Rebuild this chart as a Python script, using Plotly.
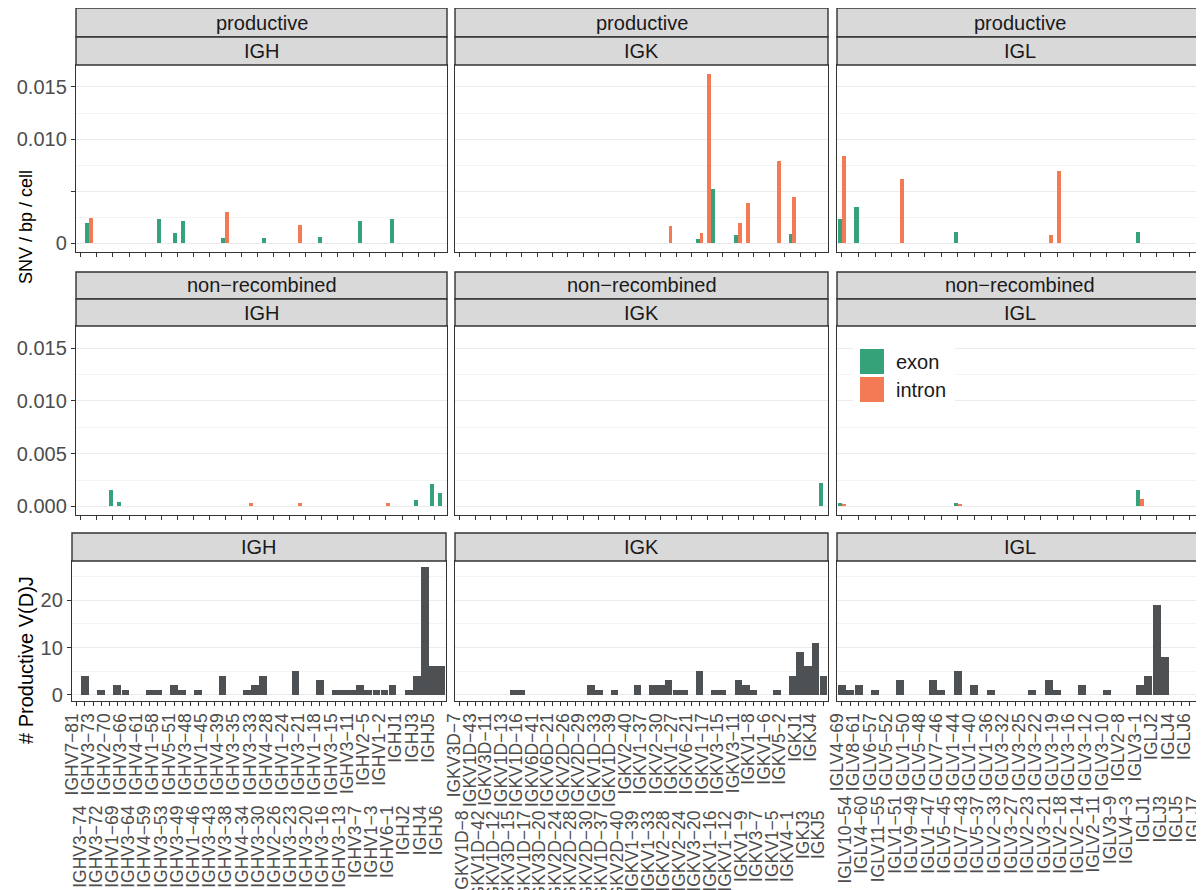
import plotly.graph_objects as go

# page is 1204x890; the html body has an 8px margin, so the figure is drawn 8px in
W_PAGE, H_PAGE = 1204, 890
OFF = 8
W, H = W_PAGE - OFF, H_PAGE - OFF

# ---------------- categories ----------------
igh_genes = ["IGHV7-81","IGHV3-74","IGHV3-73","IGHV3-72","IGHV2-70","IGHV1-69","IGHV3-66","IGHV3-64",
             "IGHV4-61","IGHV4-59","IGHV1-58","IGHV3-53","IGHV5-51","IGHV3-49","IGHV3-48","IGHV1-46",
             "IGHV1-45","IGHV3-43","IGHV4-39","IGHV3-38","IGHV3-35","IGHV4-34","IGHV3-33","IGHV3-30",
             "IGHV4-28","IGHV2-26","IGHV1-24","IGHV3-23","IGHV3-21","IGHV3-20","IGHV1-18","IGHV3-16",
             "IGHV3-15","IGHV3-13","IGHV3-11","IGHV3-7","IGHV2-5","IGHV1-3","IGHV1-2","IGHV6-1",
             "IGHJ1","IGHJ2","IGHJ3","IGHJ4","IGHJ5","IGHJ6"]
igk_genes = ["IGKV3D-7","IGKV1D-8","IGKV1D-43","IGKV1D-42","IGKV3D-11","IGKV1D-12","IGKV1D-13","IGKV3D-15",
             "IGKV1D-16","IGKV1D-17","IGKV6D-41","IGKV3D-20","IGKV6D-21","IGKV2D-24","IGKV2D-26","IGKV2D-28",
             "IGKV2D-29","IGKV2D-30","IGKV1D-33","IGKV1D-37","IGKV1D-39","IGKV2D-40","IGKV2-40","IGKV1-39",
             "IGKV1-37","IGKV1-33","IGKV2-30","IGKV2-28","IGKV1-27","IGKV2-24","IGKV6-21","IGKV3-20",
             "IGKV1-17","IGKV1-16","IGKV3-15","IGKV1-12","IGKV3-11","IGKV1-9","IGKV1-8","IGKV3-7",
             "IGKV1-6","IGKV1-5","IGKV5-2","IGKV4-1","IGKJ1","IGKJ3","IGKJ4","IGKJ5"]
igl_genes = ["IGLV4-69","IGLV10-54","IGLV8-61","IGLV4-60","IGLV6-57","IGLV11-55","IGLV5-52","IGLV1-51",
             "IGLV1-50","IGLV9-49","IGLV5-48","IGLV1-47","IGLV7-46","IGLV5-45","IGLV1-44","IGLV7-43",
             "IGLV1-40","IGLV5-37","IGLV1-36","IGLV2-33","IGLV3-32","IGLV3-27","IGLV3-25","IGLV2-23",
             "IGLV3-22","IGLV3-21","IGLV3-19","IGLV2-18","IGLV3-16","IGLV2-14","IGLV3-12","IGLV2-11",
             "IGLV3-10","IGLV3-9","IGLV2-8","IGLV4-3","IGLV3-1","IGLJ1","IGLJ2","IGLJ3","IGLJ4","IGLJ5",
             "IGLJ6","IGLJ7"]

# ---------------- productive V(D)J counts ----------------
igh_count = {"IGHV3-74": 4, "IGHV3-72": 1, "IGHV1-69": 2, "IGHV3-66": 1, "IGHV4-59": 1, "IGHV1-58": 1,
             "IGHV5-51": 2, "IGHV3-49": 1, "IGHV1-46": 1, "IGHV4-39": 4, "IGHV4-34": 1, "IGHV3-33": 2,
             "IGHV3-30": 4, "IGHV3-23": 5, "IGHV1-18": 3, "IGHV3-15": 1, "IGHV3-13": 1, "IGHV3-11": 1,
             "IGHV3-7": 2, "IGHV2-5": 1, "IGHV1-3": 1, "IGHV1-2": 1, "IGHV6-1": 2, "IGHJ2": 1,
             "IGHJ3": 4, "IGHJ4": 27, "IGHJ5": 6, "IGHJ6": 6}
igk_count = {"IGKV3D-15": 1, "IGKV1D-16": 1, "IGKV2D-30": 2, "IGKV1D-33": 1, "IGKV1D-39": 1,
             "IGKV1-39": 2, "IGKV1-33": 2, "IGKV2-30": 2, "IGKV2-28": 3, "IGKV1-27": 1, "IGKV2-24": 1,
             "IGKV3-20": 5, "IGKV1-16": 1, "IGKV3-15": 1, "IGKV3-11": 3, "IGKV1-9": 2, "IGKV1-8": 1,
             "IGKV1-5": 1, "IGKV4-1": 4, "IGKJ1": 9, "IGKJ3": 6, "IGKJ4": 11, "IGKJ5": 4}
igl_count = {"IGLV4-69": 2, "IGLV10-54": 1, "IGLV8-61": 2, "IGLV6-57": 1, "IGLV1-51": 3, "IGLV1-47": 3,
             "IGLV7-46": 1, "IGLV1-44": 5, "IGLV1-40": 2, "IGLV1-36": 1, "IGLV2-23": 1, "IGLV3-21": 3,
             "IGLV3-19": 1, "IGLV2-14": 2, "IGLV3-10": 1, "IGLV3-1": 2, "IGLJ1": 4, "IGLJ2": 19, "IGLJ3": 8}

# ---------------- SNV / bp / cell, productive ----------------
igh_prod_exon = {"IGHV3-74": 0.0020, "IGHV1-58": 0.0023, "IGHV5-51": 0.00105, "IGHV3-49": 0.0022,
                 "IGHV4-39": 0.0005, "IGHV3-30": 0.0005, "IGHV1-18": 0.00065, "IGHV3-7": 0.0022,
                 "IGHV6-1": 0.0023}
igh_prod_intron = {"IGHV3-74": 0.0024, "IGHV4-39": 0.0030, "IGHV3-23": 0.0018}
igk_prod_exon = {"IGKV3-20": 0.0004, "IGKV1-16": 0.0052, "IGKV3-11": 0.0008, "IGKV4-1": 0.0009}
igk_prod_intron = {"IGKV2-28": 0.0017, "IGKV3-20": 0.0010, "IGKV1-17": 0.0162, "IGKV3-11": 0.0020,
                   "IGKV1-9": 0.0039, "IGKV1-5": 0.0079, "IGKV4-1": 0.0045}
igl_prod_exon = {"IGLV4-69": 0.0023, "IGLV8-61": 0.0035, "IGLV1-44": 0.0011, "IGLV3-1": 0.0011}
igl_prod_intron = {"IGLV4-69": 0.0084, "IGLV1-51": 0.0062, "IGLV3-21": 0.0008, "IGLV3-19": 0.0069}

# ---------------- SNV / bp / cell, non-recombined ----------------
igh_nonrec_exon = {"IGHV2-70": 0.0016, "IGHV1-69": 0.0004, "IGHJ3": 0.0006, "IGHJ5": 0.0021, "IGHJ6": 0.0013}
igh_nonrec_intron = {"IGHV4-34": 0.0003, "IGHV3-23": 0.0003, "IGHV1-2": 0.0003}
igk_nonrec_exon = {"IGKJ5": 0.0022}
igk_nonrec_intron = {}
igl_nonrec_exon = {"IGLV4-69": 0.0003, "IGLV1-44": 0.0003, "IGLV3-1": 0.0016}
igl_nonrec_intron = {"IGLV4-69": 0.0002, "IGLV1-44": 0.0002, "IGLV3-1": 0.0007}

loci = ["IGH", "IGK", "IGL"]
row_titles = ["productive", "non\u2212recombined"]
snv_ticks = [0, 0.005, 0.010, 0.015]
snv_ticktext_top = ["0", "", "0.010", "0.015"]
snv_ticktext_mid = ["0.000", "0.005", "0.010", "0.015"]
count_ticks = [0, 10, 20]

# ---------------- style ----------------
GREEN = "#35A279"
ORANGE = "#F47A55"
GREY_BAR = "#4D5154"
DARK = "#333333"
STRIP = "#D9D9D9"
GRID = "#EBEBEB"
GRID_MINOR = "#F4F4F4"
FONT = "Liberation Sans, Arial, Helvetica, sans-serif"
TICK_FS = 17.5

def px_x(v):
    return (v - OFF) / W

def px_y(v):
    return 1 - (v - OFF) / H

col_x_top = [(76, 447), (455, 828), (837, 1203)]
col_x_bot = [(72, 446), (455, 828), (837, 1203)]
row_y = [(65, 252), (326, 515), (561, 701)]
label_pad = [19, 20, 17]   # second-row (dodged) label offsets, in nbsp

def vals(genes, d):
    return [d.get(g, 0) for g in genes]

gene_lists = [igh_genes, igk_genes, igl_genes]
prod_exon = [igh_prod_exon, igk_prod_exon, igl_prod_exon]
prod_intron = [igh_prod_intron, igk_prod_intron, igl_prod_intron]
non_exon = [igh_nonrec_exon, igk_nonrec_exon, igl_nonrec_exon]
non_intron = [igh_nonrec_intron, igk_nonrec_intron, igl_nonrec_intron]
counts = [igh_count, igk_count, igl_count]

fig = go.Figure()
layout = dict(
    width=W, height=H, margin=dict(l=0, r=0, t=0, b=0, autoexpand=False),
    paper_bgcolor="white", plot_bgcolor="white",
    barmode="group", bargap=0.0, bargroupgap=0.0,
    showlegend=False, font=dict(family=FONT, color="#4D4D4D"),
)
shapes = []
annotations = []

for r in range(3):
    for c in range(3):
        k = r * 3 + c + 1
        genes = gene_lists[c]
        xs = f"x{k}" if k > 1 else "x"
        ys = f"y{k}" if k > 1 else "y"
        if r == 0:
            fig.add_trace(go.Bar(x=genes, y=vals(genes, prod_exon[c]), marker_color=GREEN,
                                 marker_line_width=0, name="exon", xaxis=xs, yaxis=ys))
            fig.add_trace(go.Bar(x=genes, y=vals(genes, prod_intron[c]), marker_color=ORANGE,
                                 marker_line_width=0, name="intron", xaxis=xs, yaxis=ys))
        elif r == 1:
            fig.add_trace(go.Bar(x=genes, y=vals(genes, non_exon[c]), marker_color=GREEN,
                                 marker_line_width=0, name="exon", xaxis=xs, yaxis=ys))
            fig.add_trace(go.Bar(x=genes, y=vals(genes, non_intron[c]), marker_color=ORANGE,
                                 marker_line_width=0, name="intron", xaxis=xs, yaxis=ys))
        else:
            fig.add_trace(go.Bar(x=genes, y=vals(genes, counts[c]), marker_color=GREY_BAR,
                                 marker_line_width=0, width=0.96, name="count", xaxis=xs, yaxis=ys))

        xd = col_x_bot[c] if r == 2 else col_x_top[c]
        yd = row_y[r]
        n = len(genes)
        xa = dict(domain=[px_x(xd[0]), min(1.0, px_x(xd[1]))], anchor=ys, type="category", automargin=False,
                  categoryorder="array", categoryarray=genes, range=[-0.6, n - 0.4],
                  showline=True, mirror=True, linecolor=DARK, linewidth=1.4,
                  ticks="outside", ticklen=4, tickcolor=DARK, tickwidth=1,
                  showgrid=False, zeroline=False, fixedrange=True)
        if r == 2:
            ttext = []
            for i, g in enumerate(genes):
                lab = g.replace("-", "\u2212")
                if i % 2 == 1:
                    lab = lab + "\u00a0" * label_pad[c]
                ttext.append(lab)
            xa.update(tickmode="array", tickvals=genes, ticktext=ttext, tickangle=-90,
                      tickfont=dict(size=TICK_FS, color="#4D4D4D", family=FONT), ticklabelshift=-5)
        else:
            xa.update(showticklabels=False)
        if r < 2:
            ya = dict(range=[-0.000815, 0.0171], tickmode="array", tickvals=snv_ticks,
                      ticktext=snv_ticktext_top if r == 0 else snv_ticktext_mid,
                      minor=dict(tickmode="array", tickvals=[0.0025, 0.0075, 0.0125],
                                 showgrid=True, gridcolor=GRID_MINOR, gridwidth=0.7, ticks=""))
        else:
            ya = dict(range=[-1.35, 28.35], tickmode="array", tickvals=count_ticks,
                      ticktext=[str(v) for v in count_ticks],
                      minor=dict(tickmode="array", tickvals=[5, 15, 25],
                                 showgrid=True, gridcolor=GRID_MINOR, gridwidth=0.7, ticks=""))
        ya.update(domain=[px_y(yd[1]), px_y(yd[0])], anchor=xs, automargin=False,
                  showline=True, mirror=True, linecolor=DARK, linewidth=1.4,
                  showgrid=True, gridcolor=GRID, gridwidth=1.3, zeroline=False, fixedrange=True,
                  tickfont=dict(size=20, color="#4D4D4D", family=FONT))
        if c == 0:
            ya.update(ticks="outside", ticklen=4, tickcolor=DARK, tickwidth=1)
        else:
            ya.update(ticks="", showticklabels=False)
        layout["xaxis" if k == 1 else f"xaxis{k}"] = xa
        layout["yaxis" if k == 1 else f"yaxis{k}"] = ya

# ---------------- strips ----------------
def strip(x0, x1, y0, y1, text):
    shapes.append(dict(type="rect", xref="paper", yref="paper",
                       x0=px_x(x0), x1=min(1.0, px_x(x1)), y0=px_y(y1), y1=px_y(y0),
                       fillcolor=STRIP, line=dict(color=DARK, width=1.4), layer="above"))
    annotations.append(dict(xref="paper", yref="paper", x=px_x((x0 + x1) / 2), y=px_y((y0 + y1) / 2),
                            text=text, showarrow=False, xanchor="center", yanchor="middle",
                            font=dict(size=20, color="#1A1A1A", family=FONT)))

for c in range(3):
    x0, x1 = col_x_top[c]
    strip(x0, x1, 8, 37, row_titles[0])
    strip(x0, x1, 37, 65, loci[c])
    strip(x0, x1, 272, 299, row_titles[1])
    strip(x0, x1, 299, 326, loci[c])
    bx0, bx1 = col_x_bot[c]
    strip(bx0, bx1, 533, 561, loci[c])

# ---------------- legend (inside IGL non-recombined panel) ----------------
shapes.append(dict(type="rect", xref="paper", yref="paper", x0=px_x(853), x1=px_x(955),
                   y0=px_y(407), y1=px_y(343), fillcolor="white", line=dict(width=0), layer="above"))
for i, (lab, col) in enumerate([("exon", GREEN), ("intron", ORANGE)]):
    top = 349 + i * 28
    shapes.append(dict(type="rect", xref="paper", yref="paper", x0=px_x(860), x1=px_x(884),
                       y0=px_y(top + 25), y1=px_y(top), fillcolor=col, line=dict(width=0), layer="above"))
    annotations.append(dict(xref="paper", yref="paper", x=px_x(894), y=px_y(top + 12.5), text=lab,
                            showarrow=False, xanchor="left", yanchor="middle",
                            font=dict(size=20, color="#1A1A1A", family=FONT)))

# ---------------- axis titles ----------------
annotations.append(dict(xref="paper", yref="paper", x=px_x(26), y=px_y(227), text="SNV / bp / cell",
                        textangle=-90, showarrow=False, xanchor="center", yanchor="middle",
                        font=dict(size=18, color="black", family=FONT)))
annotations.append(dict(xref="paper", yref="paper", x=px_x(26), y=px_y(660), text="# Productive V(D)J",
                        textangle=-90, showarrow=False, xanchor="center", yanchor="middle",
                        font=dict(size=20, color="black", family=FONT)))

layout["shapes"] = shapes
layout["annotations"] = annotations
fig.update_layout(**layout)
fig.write_html("out.html")
